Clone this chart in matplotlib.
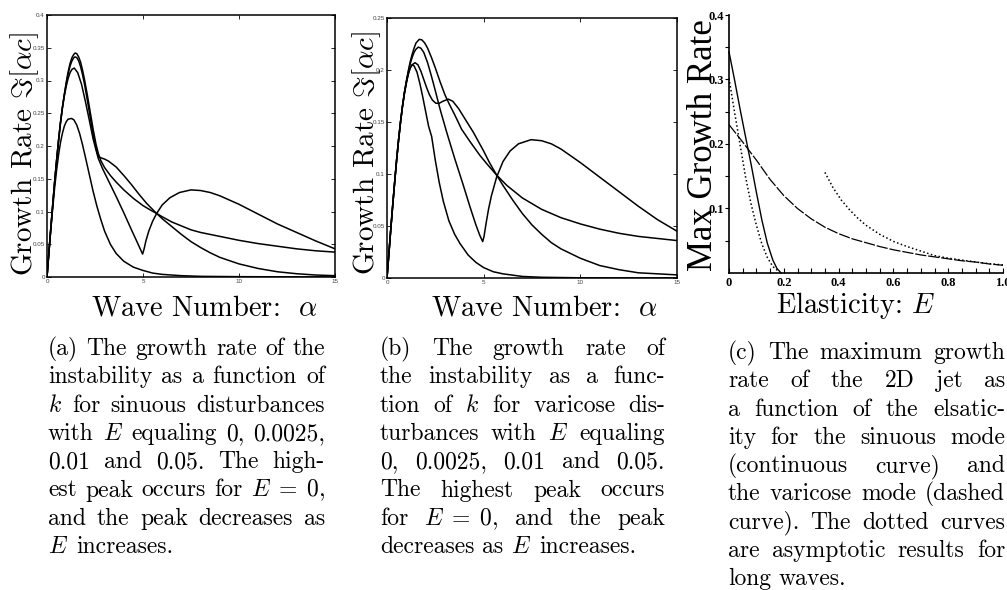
import re
import numpy as np
import matplotlib
matplotlib.use("Agg")
import matplotlib.pyplot as plt

plt.rcParams['mathtext.fontset'] = 'cm'
plt.rcParams['font.family'] = 'cmr10'
plt.rcParams['axes.unicode_minus'] = False
plt.rcParams['axes.formatter.use_mathtext'] = True

W, H = 1007, 590

# ---- (a) sinuous mode, E = 0, 0.0025, 0.01, 0.05 ----
a_e0_x = [0, 0.1, 0.2, 0.3, 0.4, 0.5, 0.6, 0.7, 0.8, 0.9, 1.0, 1.1, 1.2, 1.3, 1.4, 1.47,
          1.55, 1.65, 1.75, 1.85, 1.95, 2.1, 2.25, 2.4, 2.55, 2.67, 2.8, 3.0, 3.3, 3.6,
          4.0, 4.5, 5.0, 5.4, 5.71, 6.0, 6.5, 7.0, 7.5, 8.0, 8.5, 9.0, 10.0, 11.0, 12.0,
          13.0, 14.0, 15.0]
a_e0_y = [0, 0.038, 0.075, 0.111, 0.146, 0.178, 0.208, 0.235, 0.258, 0.278, 0.297,
          0.313, 0.326, 0.335, 0.340, 0.342, 0.341, 0.336, 0.328, 0.316, 0.302, 0.278,
          0.252, 0.226, 0.203, 0.189, 0.178, 0.167, 0.155, 0.145, 0.133, 0.120, 0.109,
          0.102, 0.097, 0.092, 0.084, 0.078, 0.072, 0.068, 0.065, 0.062, 0.056, 0.051,
          0.047, 0.043, 0.040, 0.038]
a_e1_x = [0, 0.1, 0.2, 0.3, 0.4, 0.5, 0.6, 0.7, 0.8, 0.9, 1.0, 1.1, 1.2, 1.3, 1.4, 1.46,
          1.55, 1.65, 1.75, 1.85, 1.95, 2.1, 2.25, 2.4, 2.55, 2.67, 2.8, 3.0, 3.2, 3.6,
          4.0, 4.4, 4.8, 5.2, 5.71, 6.0, 6.5, 7.0, 7.5, 8.0, 8.5, 9.0, 10.0, 11.0, 12.0,
          13.0, 14.0, 15.0]
a_e1_y = [0, 0.038, 0.075, 0.111, 0.146, 0.178, 0.208, 0.235, 0.258, 0.278, 0.295,
          0.310, 0.322, 0.330, 0.335, 0.336, 0.335, 0.330, 0.321, 0.309, 0.295, 0.270,
          0.244, 0.218, 0.196, 0.184, 0.182, 0.180, 0.177, 0.168, 0.155, 0.141, 0.126,
          0.112, 0.097, 0.089, 0.077, 0.065, 0.054, 0.045, 0.037, 0.030, 0.020, 0.013,
          0.008, 0.005, 0.003, 0.002]
a_e2_x = [0, 0.1, 0.2, 0.3, 0.4, 0.5, 0.6, 0.7, 0.8, 0.9, 1.0, 1.1, 1.2, 1.3, 1.42, 1.6,
          1.8, 2.0, 2.2, 2.4, 2.67, 2.9, 3.2, 3.6, 4.0, 4.4, 4.7, 4.9, 4.98, 5.05, 5.15,
          5.3, 5.5, 5.71, 6.0, 6.4, 6.9, 7.5, 8.0, 8.5, 9.0, 10.0, 11.0, 12.0, 13.0,
          14.0, 15.0]
a_e2_y = [0, 0.038, 0.075, 0.111, 0.146, 0.178, 0.208, 0.235, 0.258, 0.276, 0.291,
          0.303, 0.312, 0.317, 0.319, 0.312, 0.294, 0.268, 0.240, 0.211, 0.181, 0.165,
          0.147, 0.123, 0.098, 0.072, 0.053, 0.040, 0.035, 0.042, 0.055, 0.070, 0.085,
          0.097, 0.110, 0.121, 0.129, 0.133, 0.132, 0.129, 0.124, 0.111, 0.096, 0.081,
          0.068, 0.055, 0.043]
a_e3_x = [0, 0.1, 0.2, 0.3, 0.4, 0.5, 0.6, 0.7, 0.8, 0.9, 1.0, 1.1, 1.28, 1.4, 1.55,
          1.7, 1.85, 2.0, 2.2, 2.4, 2.6, 2.8, 3.0, 3.3, 3.6, 4.0, 4.5, 5.0, 5.5, 6.0,
          7.0, 8.0, 10.0, 15.0]
a_e3_y = [0, 0.037, 0.073, 0.106, 0.137, 0.163, 0.186, 0.205, 0.219, 0.230, 0.237,
          0.241, 0.242, 0.240, 0.232, 0.219, 0.202, 0.183, 0.157, 0.131, 0.108, 0.088,
          0.070, 0.050, 0.036, 0.024, 0.015, 0.010, 0.006, 0.004, 0.002, 0.001, 0.0005,
          0]

# ---- (b) varicose mode ----
b_e0_x = [0, 0.1, 0.2, 0.3, 0.4, 0.5, 0.6, 0.7, 0.8, 0.9, 1.0, 1.1, 1.2, 1.3, 1.4, 1.5,
          1.67, 1.8, 1.95, 2.1, 2.3, 2.5, 2.74, 3.0, 3.2, 3.5, 3.86, 4.3, 4.8, 5.2, 5.67,
          6.2, 7.0, 8.0, 9.0, 10.0, 11.0, 12.0, 13.0, 14.0, 15.0]
b_e0_y = [0, 0.024, 0.048, 0.071, 0.093, 0.114, 0.133, 0.150, 0.165, 0.178, 0.189,
          0.199, 0.208, 0.215, 0.221, 0.226, 0.2295, 0.229, 0.226, 0.221, 0.212, 0.202,
          0.189, 0.176, 0.168, 0.157, 0.143, 0.131, 0.118, 0.109, 0.099, 0.089, 0.077,
          0.066, 0.058, 0.052, 0.047, 0.043, 0.040, 0.038, 0.036]
b_e1_x = [0, 0.1, 0.2, 0.3, 0.4, 0.5, 0.6, 0.7, 0.8, 0.9, 1.0, 1.1, 1.2, 1.3, 1.4, 1.5,
          1.62, 1.75, 1.9, 2.1, 2.3, 2.5, 2.75, 3.09, 3.5, 3.95, 4.3, 4.6, 4.8, 4.95,
          5.02, 5.12, 5.25, 5.4, 5.67, 6.0, 6.36, 6.8, 7.45, 8.0, 8.5, 9.0, 10.0, 11.0,
          12.0, 13.0, 14.0, 15.0]
b_e1_y = [0, 0.024, 0.048, 0.071, 0.093, 0.114, 0.133, 0.150, 0.165, 0.178, 0.189,
          0.198, 0.206, 0.212, 0.217, 0.220, 0.222, 0.221, 0.217, 0.207, 0.194, 0.180,
          0.162, 0.140, 0.115, 0.089, 0.068, 0.051, 0.041, 0.035, 0.040, 0.052, 0.066,
          0.079, 0.097, 0.112, 0.122, 0.129, 0.133, 0.132, 0.129, 0.124, 0.111, 0.097,
          0.083, 0.069, 0.056, 0.045]
b_e2_x = [0, 0.1, 0.2, 0.3, 0.4, 0.5, 0.6, 0.7, 0.8, 0.9, 1.0, 1.1, 1.2, 1.3, 1.45,
          1.6, 1.75, 1.9, 2.05, 2.2, 2.35, 2.53, 2.7, 2.9, 3.17, 3.4, 3.7, 4.0, 4.47, 5.0,
          5.3, 5.67, 6.0, 6.5, 7.0, 7.5, 8.0, 8.5, 9.0, 10.0, 11.0, 12.0, 13.0, 14.0,
          15.0]
b_e2_y = [0, 0.024, 0.048, 0.071, 0.093, 0.114, 0.133, 0.150, 0.165, 0.178, 0.188,
          0.196, 0.202, 0.205, 0.207, 0.205, 0.199, 0.191, 0.183, 0.176, 0.171, 0.168,
          0.168, 0.170, 0.172, 0.170, 0.163, 0.154, 0.140, 0.122, 0.111, 0.099, 0.089,
          0.075, 0.062, 0.051, 0.042, 0.034, 0.028, 0.019, 0.012, 0.008, 0.005, 0.004,
          0.003]
b_e3_x = [0, 0.1, 0.2, 0.3, 0.4, 0.5, 0.6, 0.7, 0.8, 0.9, 1.0, 1.1, 1.2, 1.3, 1.4, 1.55,
          1.7, 1.85, 2.0, 2.15, 2.31, 2.5, 2.7, 2.91, 3.2, 3.5, 3.78, 4.2, 4.6, 5.0, 5.5,
          6.0, 7.0, 8.0, 10.0, 15.0]
b_e3_y = [0, 0.024, 0.048, 0.071, 0.093, 0.114, 0.133, 0.150, 0.165, 0.177, 0.187,
          0.196, 0.202, 0.205, 0.204, 0.198, 0.187, 0.174, 0.160, 0.146, 0.136, 0.113,
          0.092, 0.074, 0.055, 0.042, 0.033, 0.022, 0.015, 0.010, 0.006, 0.004, 0.0015,
          0.0007, 0.0002, 0]

# ---- (c) max growth rate vs elasticity ----
c_sin_x = [0, 0.02, 0.04, 0.06, 0.08, 0.10, 0.12, 0.14, 0.16, 0.175, 0.19]
c_sin_y = [0.343, 0.300, 0.255, 0.212, 0.170, 0.125, 0.082, 0.046, 0.020, 0.007, 0.0]
c_sin_asym_x = [0, 0.02, 0.04, 0.06, 0.08, 0.10, 0.12, 0.14, 0.16, 0.18]
c_sin_asym_y = [0.302, 0.250, 0.200, 0.150, 0.108, 0.074, 0.045, 0.024, 0.010, 0.003]
c_var_x = [0, 0.05, 0.1, 0.15, 0.2, 0.25, 0.3, 0.35, 0.4, 0.45, 0.5, 0.55, 0.6, 0.65,
           0.7, 0.75, 0.8, 0.85, 0.9, 0.95, 1.0]
c_var_y = [0.230, 0.203, 0.175, 0.145, 0.120, 0.100, 0.084, 0.071, 0.061, 0.053, 0.047,
           0.041, 0.036, 0.032, 0.028, 0.025, 0.022, 0.019, 0.017, 0.014, 0.012]
c_var_asym_x = [0.35, 0.38, 0.41, 0.44, 0.47, 0.5, 0.55, 0.6, 0.65, 0.7, 0.75, 0.8,
                0.85, 0.9, 0.95, 1.0]
c_var_asym_y = [0.156, 0.132, 0.113, 0.098, 0.085, 0.074, 0.060, 0.049, 0.041, 0.034,
                0.027, 0.023, 0.020, 0.017, 0.0145, 0.0125]

a_yticks = [0, 0.05, 0.1, 0.15, 0.2, 0.25, 0.3, 0.35, 0.4]
a_yticklabels = ['0', '0.05', '0.1', '0.15', '0.2', '0.25', '0.3', '0.35', '0.4']
b_yticks = [0, 0.05, 0.1, 0.15, 0.2, 0.25]
b_yticklabels = ['0', '0.05', '0.1', '0.15', '0.2', '0.25']
ab_xticks = [0, 5, 10, 15]
ab_xticklabels = ['0', '5', '10', '15']
c_xticks = [0, 0.2, 0.4, 0.6, 0.8, 1.0]
c_xticklabels = ['0', '0.2', '0.4', '0.6', '0.8', '1.0']
c_yticks = [0.1, 0.2, 0.3, 0.4]
c_yticklabels = ['0.1', '0.2', '0.3', '0.4']

caption_a = ["(a) The growth rate of the",
             "instability as a function of",
             "$k$ for sinuous disturbances",
             "with $E$ equaling 0, 0.0025,",
             "0.01 and 0.05.  The high-",
             r"est peak occurs for $E\;=\;0$,",
             "and the peak decreases as",
             "$E$ increases."]
caption_b = ["(b) The growth rate of",
             "the instability as a func-",
             "tion of $k$ for varicose dis-",
             "turbances with $E$ equaling",
             "0, 0.0025, 0.01 and 0.05.",
             "The highest peak occurs",
             r"for $E\;=\;0$, and the peak",
             "decreases as $E$ increases."]
caption_c = ["(c) The maximum growth",
             "rate of the 2D jet as",
             "a function of the elsatic-",
             "ity for the sinuous mode",
             "(continuous curve) and",
             "the varicose mode (dashed",
             "curve).  The dotted curves",
             "are asymptotic results for",
             "long waves."]


def box(l, t, r, b):
    return [l / W, 1 - b / H, (r - l) / W, (b - t) / H]


fig = plt.figure(figsize=(W / 100, H / 100), dpi=100)

tick_kw = dict(fontsize=4.5, color='#444444', family='Liberation Sans')


def matlab_axes(rect, ymax, yticks, yticklabels):
    ax = fig.add_axes(rect)
    ax.set_xlim(0, 15)
    ax.set_ylim(0, ymax)
    ax.set_xticks(ab_xticks, ab_xticklabels, **tick_kw)
    ax.set_yticks(yticks, yticklabels, **tick_kw)
    ax.tick_params(direction='in', top=True, right=True, length=3, width=0.6, pad=1.5)
    for s in ax.spines.values():
        s.set_linewidth(1.1)
    return ax


ax_a = matlab_axes(box(47, 15, 335, 277), 0.4, a_yticks, a_yticklabels)
for xs, ys in [(a_e0_x, a_e0_y), (a_e1_x, a_e1_y), (a_e2_x, a_e2_y), (a_e3_x, a_e3_y)]:
    ax_a.plot(xs, ys, color='black', lw=1.1)

ax_b = matlab_axes(box(387, 18, 677, 278), 0.25, b_yticks, b_yticklabels)
for xs, ys in [(b_e0_x, b_e0_y), (b_e1_x, b_e1_y), (b_e2_x, b_e2_y), (b_e3_x, b_e3_y)]:
    ax_b.plot(xs, ys, color='black', lw=1.1)

# (c)
ax_c = fig.add_axes(box(729, 15, 1003, 273))
ax_c.set_xlim(0, 1.0)
ax_c.set_ylim(0, 0.4)
ax_c.spines['top'].set_visible(False)
ax_c.spines['right'].set_visible(False)
for s in ['left', 'bottom']:
    ax_c.spines[s].set_linewidth(1.2)
c_font = dict(fontsize=9, family='Liberation Serif', fontweight='bold')
ax_c.set_xticks(c_xticks, c_xticklabels, **c_font)
ax_c.set_xticks(np.arange(0, 1.001, 0.05), minor=True)
ax_c.set_yticks(c_yticks, c_yticklabels, **c_font)
ax_c.set_yticks(np.arange(0.05, 0.401, 0.05), minor=True)
ax_c.tick_params(axis='x', which='both', direction='in', length=3.5, width=0.8, pad=3)
ax_c.tick_params(axis='y', which='both', direction='out', length=3, width=0.8, pad=0.5)
ax_c.plot(c_sin_x, c_sin_y, color='black', lw=1.0, clip_on=False)
ax_c.plot(c_sin_asym_x, c_sin_asym_y, color='black', lw=1.1, dashes=(1, 1.6))
ax_c.plot(c_var_x, c_var_y, color='black', lw=0.9, dashes=(9, 1.5))
ax_c.plot(c_var_asym_x, c_var_asym_y, color='black', lw=1.1, dashes=(1, 1.6))

# axis labels
lab = dict(fontsize=21, ha='center', va='center', family='cmr10')
fig.text(25 / W, 1 - 154 / H, r'Growth Rate $\Im[\alpha c]$', rotation=90, **lab)
fig.text(367 / W, 1 - 153 / H, r'Growth Rate $\Im[\alpha c]$', rotation=90, **lab)
fig.text(704 / W, 1 - 145 / H, 'Max Growth Rate', rotation=90, fontsize=25,
         ha='center', va='center', family='Liberation Serif')
xl = dict(fontsize=20.5, ha='center', va='baseline', family='cmr10')
fig.text(205 / W, 1 - 315 / H, r'Wave Number:  $\alpha$', **xl)
fig.text(545 / W, 1 - 315 / H, r'Wave Number:  $\alpha$', **xl)
fig.text(856 / W, 1 - 313 / H, r'Elasticity: $E$', **xl)

# justified captions
renderer = fig.canvas.get_renderer()


def caption(lines, x0, x1, y0, dy, size=17):
    space = 0.333 * size * 100 / 72
    for i, line in enumerate(lines):
        words = re.findall(r'\$[^$]*\$\S*|\S+', line)
        y = 1 - (y0 + i * dy) / H
        texts = [fig.text(0, y, w, fontsize=size, family='cmr10', va='baseline')
                 for w in words]
        widths = [t.get_window_extent(renderer).width for t in texts]
        if i < len(lines) - 1 and len(words) > 1:
            gap = (x1 - x0 - sum(widths)) / (len(words) - 1)
        else:
            gap = space
        x = x0
        for t, wd in zip(texts, widths):
            t.set_x(x / W)
            x += wd + gap


caption(caption_a, 48, 325, 355, 28.3)
caption(caption_b, 380, 665, 355, 28.3)
caption(caption_c, 728, 1005, 359, 28.3)

fig.savefig('out.png', dpi=100)
